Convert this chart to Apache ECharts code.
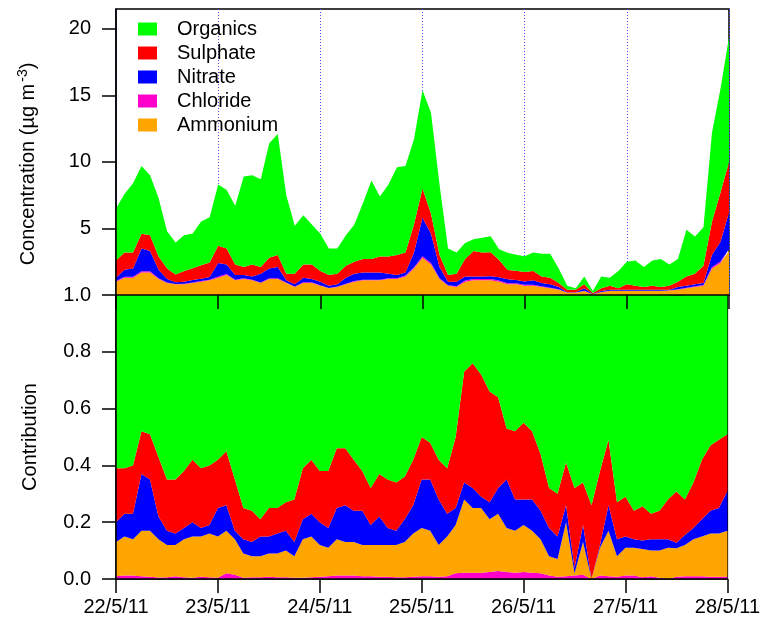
<!DOCTYPE html>
<html>
<head>
<meta charset="utf-8">
<script src="https://cdn.jsdelivr.net/npm/echarts@6/dist/echarts.min.js"></script>
<style>
  html, body { margin: 0; padding: 0; background: #fff; }
  #chart { width: 763px; height: 627px; }
</style>
</head>
<body>
<div id="chart"></div>
<script>
// one sample every 2 h from 22/5/11 00:00 to 28/5/11 00:00
const STEP_HOURS = 2;
const SAMPLES_PER_DAY = 24 / STEP_HOURS;
const dayLabels = ['22/5/11', '23/5/11', '24/5/11', '25/5/11', '26/5/11', '27/5/11', '28/5/11'];
const speciesNames = ['Organics', 'Sulphate', 'Nitrate', 'Chloride', 'Ammonium'];

// top panel: concentrations (ug m-3)
const organics = [
  3.9, 4.4, 5.2, 5.1, 4.5, 4.4, 2.8, 2.4, 2.7, 2.6, 3.3, 3.4,
  4.6, 4.4, 4.4, 6.8, 6.7, 6.6, 8.6, 9.1, 5.9, 3.6, 3.7, 3.0,
  2.8, 2.0, 1.9, 2.3, 2.8, 4.2, 5.9, 4.5, 5.4, 6.6, 6.5, 6.4,
  7.4, 7.6, 5.3, 2.0, 1.6, 1.2, 0.9, 1.1, 1.2, 0.8, 1.3, 1.2,
  1.2, 1.4, 1.7, 1.8, 1.1, 0.3, 0.1, 0.6, 0.15, 0.9, 0.6, 1.3,
  1.7, 1.9, 1.5, 1.9, 2.1, 1.6, 1.7, 3.5, 2.8, 2.9, 6.7, 7.8, 9.4
];
const sulphate = [
  1.3, 1.3, 1.2, 1.1, 1.2, 1.0, 0.8, 0.6, 0.8, 0.9, 1.0, 1.1,
  1.3, 1.2, 0.8, 0.6, 0.9, 0.5, 0.8, 0.9, 0.5, 0.8, 1.0, 1.1,
  0.8, 0.8, 0.8, 0.9, 0.9, 1.0, 1.0, 1.2, 1.3, 1.5, 1.5, 2.1,
  2.2, 1.5, 0.9, 0.5, 0.6, 1.3, 1.9, 1.8, 1.8, 1.3, 0.7, 0.7,
  0.7, 0.7, 0.5, 0.5, 0.3, 0.2, 0.2, 0.3, 0.07, 0.2, 0.3, 0.1,
  0.4, 0.3, 0.2, 0.3, 0.2, 0.3, 0.4, 0.7, 0.8, 1.3, 2.5, 3.7, 3.8
];
const nitrate = [
  0.24, 0.53, 0.63, 1.72, 1.52, 0.64, 0.26, 0.12, 0.16, 0.18, 0.18, 0.2,
  1.01, 0.72, 0.35, 0.25, 0.25, 0.66, 0.74, 0.84, 0.16, 0.17, 0.35, 0.25,
  0.26, 0.17, 0.17, 0.46, 0.55, 0.55, 0.55, 0.55, 0.35, 0.25, 0.24, 1.12,
  2.88, 2.2, 0.84, 0.26, 0.34, 0.31, 0.2, 0.2, 0.2, 0.25, 0.3, 0.25,
  0.25, 0.33, 0.24, 0.25, 0.17, 0.02, 0.02, 0.18, 0.02, 0.08, 0.08, 0.08,
  0.08, 0.08, 0.08, 0.08, 0.08, 0.05, 0.17, 0.16, 0.15, 0.14, 0.9, 1.48, 2.75
];
const chloride = [
  0.06, 0.07, 0.07, 0.08, 0.08, 0.06, 0.04, 0.03, 0.04, 0.04, 0.05, 0.05,
  0.09, 0.08, 0.05, 0.05, 0.05, 0.04, 0.06, 0.06, 0.04, 0.03, 0.05, 0.05,
  0.04, 0.03, 0.03, 0.04, 0.05, 0.05, 0.05, 0.05, 0.05, 0.05, 0.06, 0.08,
  0.12, 0.10, 0.06, 0.04, 0.06, 0.09, 0.10, 0.10, 0.11, 0.09, 0.08, 0.08,
  0.07, 0.07, 0.06, 0.05, 0.03, 0.01, 0.01, 0.02, 0.00, 0.02, 0.02, 0.02,
  0.02, 0.02, 0.02, 0.02, 0.02, 0.02, 0.03, 0.04, 0.05, 0.06, 0.10, 0.12, 0.15
];
const ammonium = [
  1.0, 1.3, 1.3, 1.7, 1.7, 1.2, 0.9, 0.8, 0.8, 0.9, 1.0, 1.1,
  1.3, 1.5, 1.1, 1.2, 1.1, 0.9, 1.2, 1.2, 0.9, 0.6, 0.9, 0.9,
  0.7, 0.5, 0.6, 0.8, 1.0, 1.1, 1.1, 1.1, 1.2, 1.2, 1.4, 2.0,
  2.8, 2.3, 1.2, 0.7, 0.6, 1.0, 1.1, 1.1, 1.1, 1.0, 0.8, 0.8,
  0.7, 0.7, 0.6, 0.5, 0.4, 0.17, 0.17, 0.3, 0.06, 0.2, 0.3, 0.3,
  0.3, 0.3, 0.3, 0.3, 0.3, 0.33, 0.4, 0.5, 0.6, 0.7, 2.0, 2.4, 3.3
];

// bottom panel: fractional contribution
const fracOrganics = [
  0.61, 0.61, 0.60, 0.48, 0.49, 0.57, 0.65, 0.65, 0.62, 0.58, 0.61, 0.60,
  0.58, 0.55, 0.65, 0.75, 0.76, 0.79, 0.75, 0.75, 0.73, 0.72, 0.61, 0.58,
  0.62, 0.62, 0.54, 0.54, 0.58, 0.62, 0.68, 0.63, 0.65, 0.66, 0.64, 0.58,
  0.50, 0.52, 0.58, 0.61, 0.50, 0.27, 0.24, 0.28, 0.34, 0.36, 0.47, 0.48,
  0.45, 0.48, 0.56, 0.68, 0.70, 0.59, 0.68, 0.66, 0.74, 0.62, 0.51, 0.73,
  0.71, 0.76, 0.75, 0.77, 0.76, 0.72, 0.69, 0.72, 0.66, 0.58, 0.53, 0.51, 0.49
];
const fracSulphate = [
  0.19, 0.16, 0.17, 0.15, 0.16, 0.21, 0.18, 0.19, 0.20, 0.22, 0.21, 0.21,
  0.17, 0.19, 0.18, 0.11, 0.11, 0.06, 0.10, 0.09, 0.10, 0.15, 0.18, 0.19,
  0.18, 0.20, 0.21, 0.20, 0.18, 0.14, 0.13, 0.15, 0.17, 0.17, 0.15, 0.16,
  0.15, 0.13, 0.14, 0.16, 0.25, 0.39, 0.44, 0.43, 0.39, 0.32, 0.18, 0.24,
  0.27, 0.24, 0.20, 0.14, 0.15, 0.15, 0.28, 0.15, 0.26, 0.26, 0.23, 0.13,
  0.14, 0.10, 0.12, 0.09, 0.10, 0.14, 0.18, 0.125, 0.16, 0.21, 0.23, 0.24, 0.20
];
const fracNitrate = [
  0.07, 0.08, 0.09, 0.20, 0.18, 0.08, 0.05, 0.04, 0.04, 0.05, 0.03, 0.03,
  0.10, 0.09, 0.03, 0.05, 0.05, 0.07, 0.06, 0.07, 0.07, 0.05, 0.07, 0.08,
  0.08, 0.07, 0.11, 0.13, 0.11, 0.12, 0.07, 0.10, 0.06, 0.05, 0.08, 0.10,
  0.17, 0.18, 0.16, 0.08, 0.06, 0.06, 0.07, 0.04, 0.06, 0.09, 0.17, 0.11,
  0.09, 0.11, 0.10, 0.10, 0.08, 0.06, 0.02, 0.06, 0.00, 0.01, 0.09, 0.06,
  0.04, 0.03, 0.03, 0.04, 0.04, 0.03, 0.02, 0.035, 0.04, 0.06, 0.08, 0.09, 0.14
];
const fracChloride = [
  0.010, 0.012, 0.012, 0.010, 0.008, 0.005, 0.006, 0.010, 0.006, 0.004, 0.008, 0.006,
  0.004, 0.020, 0.015, 0.004, 0.006, 0.006, 0.008, 0.006, 0.006, 0.004, 0.004, 0.006,
  0.008, 0.010, 0.012, 0.012, 0.012, 0.010, 0.010, 0.008, 0.008, 0.006, 0.006, 0.008,
  0.010, 0.010, 0.008, 0.010, 0.020, 0.022, 0.022, 0.022, 0.025, 0.028, 0.025, 0.022,
  0.025, 0.022, 0.020, 0.012, 0.008, 0.010, 0.012, 0.015, 0.000, 0.012, 0.010, 0.008,
  0.012, 0.012, 0.006, 0.010, 0.004, 0.000, 0.008, 0.010, 0.010, 0.010, 0.008, 0.008, 0.008
];
const fracAmmonium = [
  0.120, 0.138, 0.128, 0.160, 0.162, 0.135, 0.114, 0.110, 0.134, 0.146, 0.142, 0.154,
  0.146, 0.150, 0.125, 0.086, 0.074, 0.074, 0.082, 0.084, 0.094, 0.076, 0.136, 0.144,
  0.112, 0.100, 0.128, 0.118, 0.118, 0.110, 0.110, 0.112, 0.112, 0.114, 0.124, 0.152,
  0.170, 0.160, 0.112, 0.140, 0.170, 0.258, 0.228, 0.228, 0.185, 0.202, 0.155, 0.148,
  0.165, 0.148, 0.120, 0.068, 0.062, 0.190, 0.008, 0.115, 0.000, 0.098, 0.160, 0.072,
  0.098, 0.098, 0.100, 0.090, 0.096, 0.110, 0.100, 0.110, 0.130, 0.140, 0.152, 0.152, 0.162
];

const colors = {
  Organics: '#00ff00',
  Sulphate: '#ff0000',
  Nitrate: '#0000ff',
  Chloride: '#ff00cc',
  Ammonium: '#ffa500'
};

const FONT = "'Liberation Sans', Arial, sans-serif";
// category per sample; label = hour offset
const sampleHours = organics.map((_, i) => String(i * STEP_HOURS));
const DAY_EVERY = SAMPLES_PER_DAY - 1;

function areaSeries(name, values, stack, idx) {
  return {
    name: name,
    type: 'line',
    stack: stack,
    xAxisIndex: idx,
    yAxisIndex: idx,
    data: values,
    showSymbol: false,
    symbol: 'none',
    lineStyle: { width: 0 },
    itemStyle: { color: colors[name] },
    areaStyle: { color: colors[name], opacity: 1 },
    silent: true
  };
}

const chart = echarts.init(document.getElementById('chart'), null, { renderer: 'canvas' });

const xBase = {
  type: 'category',
  data: sampleHours,
  boundaryGap: false,
  z: 10,
  splitLine: { show: false },
  axisLine: { lineStyle: { color: '#000', width: 1.5 } },
  axisTick: { interval: DAY_EVERY, inside: false, length: 14, lineStyle: { color: '#000', width: 1.5 } }
};

chart.setOption({
  backgroundColor: '#fff',
  animation: false,
  textStyle: { fontFamily: FONT },
  legend: {
    data: speciesNames,
    orient: 'vertical',
    left: 138,
    top: 19,
    padding: 0,
    icon: 'rect',
    itemWidth: 19,
    itemHeight: 13,
    itemGap: 4,
    selectedMode: false,
    textStyle: { fontSize: 20, fontFamily: FONT, color: '#000', lineHeight: 20, padding: [0, 0, 0, 15] }
  },
  grid: [
    { left: 116, top: 9, width: 613, height: 286, show: true, borderColor: '#000', borderWidth: 1.5 },
    { left: 116, top: 295, width: 613, height: 284, show: true, borderColor: '#000', borderWidth: 1.5 }
  ],
  xAxis: [
    // top panel axis: ticks reach down over the lower panel
    Object.assign({}, xBase, { gridIndex: 0, axisLabel: { show: false } }),
    Object.assign({}, xBase, {
      gridIndex: 1,
      axisLabel: {
        interval: DAY_EVERY,
        fontSize: 20, fontFamily: FONT, color: '#000', margin: 18,
        formatter: (v, i) => dayLabels[Math.round(i / SAMPLES_PER_DAY)]
      }
    }),
    // day grid lines, kept under the areas
    {
      type: 'category',
      data: sampleHours,
      boundaryGap: false,
      gridIndex: 0,
      z: 0,
      axisLine: { show: false },
      axisTick: { show: false },
      axisLabel: { show: false },
      splitLine: { show: true, interval: DAY_EVERY, lineStyle: { color: '#4a4aff', type: [1, 2], width: 1 } }
    }
  ],
  yAxis: [
    {
      type: 'value',
      gridIndex: 0,
      min: 0,
      max: 21.5,
      interval: 5,
      z: 10,
      name: 'Concentration (\u00b5g m{sup|-3})',
      nameLocation: 'middle',
      nameRotate: 90,
      nameGap: 76,
      nameTextStyle: {
        fontSize: 20, fontFamily: FONT, color: '#000', padding: [0, 24, 0, 0],
        rich: { sup: { fontSize: 14, fontFamily: FONT, color: '#000', verticalAlign: 'top', padding: [0, 0, 10, 2] } }
      },
      axisLine: { show: true, lineStyle: { color: '#000', width: 1.5 } },
      axisTick: { show: true, inside: false, length: 14, customValues: [0, 5, 10, 15, 20], lineStyle: { color: '#000', width: 1.5 } },
      axisLabel: { fontSize: 20, fontFamily: FONT, color: '#000', margin: 25, customValues: [5, 10, 15, 20] },
      splitLine: { show: false }
    },
    {
      type: 'value',
      gridIndex: 1,
      min: 0,
      max: 1,
      interval: 0.2,
      z: 10,
      name: 'Contribution',
      nameLocation: 'middle',
      nameRotate: 90,
      nameGap: 76,
      nameTextStyle: { fontSize: 20, fontFamily: FONT, color: '#000' },
      axisLine: { show: true, lineStyle: { color: '#000', width: 1.5 } },
      axisTick: { show: true, inside: false, length: 14, lineStyle: { color: '#000', width: 1.5 } },
      axisLabel: { fontSize: 20, fontFamily: FONT, color: '#000', margin: 25, formatter: v => v.toFixed(1) },
      splitLine: { show: false }
    }
  ],
  series: [
    // top: stacked from the bottom up
    areaSeries('Ammonium', ammonium, 'conc', 0),
    areaSeries('Chloride', chloride, 'conc', 0),
    areaSeries('Nitrate', nitrate, 'conc', 0),
    areaSeries('Sulphate', sulphate, 'conc', 0),
    areaSeries('Organics', organics, 'conc', 0),
    // bottom: chloride sits at the bottom here
    areaSeries('Chloride', fracChloride, 'frac', 1),
    areaSeries('Ammonium', fracAmmonium, 'frac', 1),
    areaSeries('Nitrate', fracNitrate, 'frac', 1),
    areaSeries('Sulphate', fracSulphate, 'frac', 1),
    areaSeries('Organics', fracOrganics, 'frac', 1)
  ]
});
</script>
</body>
</html>
